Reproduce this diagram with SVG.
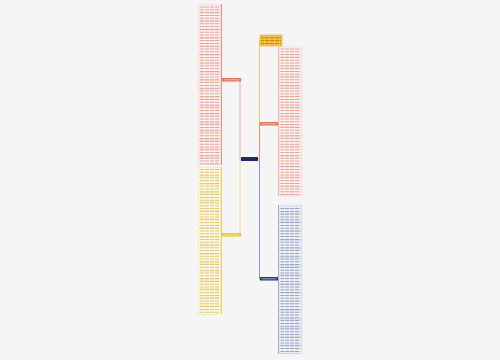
<svg xmlns="http://www.w3.org/2000/svg" width="500" height="360" viewBox="0 0 500 360">
<defs>
<pattern id="tr" width="5" height="2.8" patternUnits="userSpaceOnUse"><rect x="0" y="1" width="4.2" height="0.9" fill="#e09488"/></pattern>
<pattern id="ty" width="5" height="2.8" patternUnits="userSpaceOnUse"><rect x="0" y="1" width="4.2" height="0.9" fill="#ddbf5e"/></pattern>
<pattern id="tb" width="5" height="2.8" patternUnits="userSpaceOnUse"><rect x="0" y="1" width="4.2" height="0.9" fill="#8894b6"/></pattern>
<pattern id="to" width="5" height="2.8" patternUnits="userSpaceOnUse"><rect x="0" y="1" width="4.2" height="0.9" fill="#b07a20"/></pattern>
<pattern id="tw" width="4" height="3" patternUnits="userSpaceOnUse"><rect x="0" y="1" width="3.2" height="1" fill="#ffffff" opacity="0.8"/></pattern>
</defs>
<style>
.lr{fill:#fdf1f0;stroke:#f2cdc8;stroke-width:0.5}
.ly{fill:#fdf8e6;stroke:#f0e0a8;stroke-width:0.5}
.lb{fill:#eef1f8;stroke:#c6cde0;stroke-width:0.5}
.c{fill:none;stroke-width:0.8}
</style>
<rect width="500" height="360" fill="#f5f5f5"/>
<g id="connectors">
<path class="c" d="M241 159 H240 V80 H241" stroke="#e89a8e"/>
<path class="c" d="M241 159 H240 V235 H241" stroke="#f0d070"/>
<path class="c" d="M258 159 H259.5 V40 H260" stroke="#f0c040"/>
<path class="c" d="M259.5 159 V124 H260" stroke="#e08878"/>
<path class="c" d="M259.5 159 V279 H260" stroke="#7080a8"/>
<path class="c" d="M222 80 H221.5 V4 M221.5 80 V165" stroke="#e07a6c"/>
<path class="c" d="M222 235 H221.5 V167 M221.5 235 V314" stroke="#ecc650"/>
<path class="c" d="M278 124 H278.5 V47 M278.5 124 V196" stroke="#e89a8e"/>
<path class="c" d="M278 279 H278.5 V205 M278.5 279 V354" stroke="#8090b8"/>
</g>
<g id="root"><rect x="241" y="157" width="17" height="4" fill="#1f2a5c"/><rect x="243" y="158.5" width="13" height="1" fill="url(#tw)"/></g>
<g id="branch-left-red"><rect x="222" y="78" width="19" height="3.5" fill="#e07060"/><rect x="223.5" y="79.3" width="16" height="1" fill="#ffd8d0" opacity="0.7"/></g>
<g id="branch-left-yellow"><rect x="222" y="233" width="19" height="3.5" fill="#f2c230"/><rect x="223.5" y="234.3" width="16" height="1" fill="#fff0b0" opacity="0.7"/></g>
<g id="branch-right-red"><rect x="260" y="122" width="18" height="3.5" fill="#e07060"/><rect x="261.5" y="123.3" width="15" height="1" fill="#ffd8d0" opacity="0.7"/></g>
<g id="branch-right-blue"><rect x="260" y="277" width="18" height="3.5" fill="#2a3a70"/><rect x="261.5" y="278.3" width="15" height="1" fill="#c8d0f0" opacity="0.7"/></g>
<g id="note-orange"><rect x="260" y="35" width="22" height="11" fill="#f5c440" stroke="#e0a820" stroke-width="0.5"/><rect x="261" y="36" width="20" height="9" fill="url(#to)"/></g>
<g id="leaves-left-red">
<rect x="198" y="4" width="23" height="161" fill="#fbe9e7"/>
<rect class="lr" x="198.5" y="4.5" width="22" height="7.5"/><rect class="lr" x="198.5" y="13" width="22" height="7.5"/><rect class="lr" x="198.5" y="21.5" width="22" height="7.5"/><rect class="lr" x="198.5" y="30" width="22" height="7.5"/><rect class="lr" x="198.5" y="38.5" width="22" height="7.5"/><rect class="lr" x="198.5" y="47" width="22" height="7.5"/><rect class="lr" x="198.5" y="55.5" width="22" height="7.5"/><rect class="lr" x="198.5" y="64" width="22" height="7.5"/><rect class="lr" x="198.5" y="72.5" width="22" height="7.5"/><rect class="lr" x="198.5" y="81" width="22" height="7.5"/><rect class="lr" x="198.5" y="89.5" width="22" height="7.5"/><rect class="lr" x="198.5" y="98" width="22" height="7.5"/><rect class="lr" x="198.5" y="106.5" width="22" height="7.5"/><rect class="lr" x="198.5" y="115" width="22" height="7.5"/><rect class="lr" x="198.5" y="123.5" width="22" height="7.5"/><rect class="lr" x="198.5" y="132" width="22" height="7.5"/><rect class="lr" x="198.5" y="140.5" width="22" height="7.5"/><rect class="lr" x="198.5" y="149" width="22" height="7.5"/><rect class="lr" x="198.5" y="157.5" width="22" height="7"/>
<rect x="200" y="5" width="19" height="160" fill="url(#tr)"/>
</g>
<g id="leaves-left-yellow">
<rect x="198" y="167" width="23" height="148" fill="#fcf5dc"/>
<rect class="ly" x="198.5" y="167.5" width="22" height="7.8"/><rect class="ly" x="198.5" y="176.2" width="22" height="7.8"/><rect class="ly" x="198.5" y="184.9" width="22" height="7.8"/><rect class="ly" x="198.5" y="193.6" width="22" height="7.8"/><rect class="ly" x="198.5" y="202.3" width="22" height="7.8"/><rect class="ly" x="198.5" y="211" width="22" height="7.8"/><rect class="ly" x="198.5" y="219.7" width="22" height="7.8"/><rect class="ly" x="198.5" y="228.4" width="22" height="7.8"/><rect class="ly" x="198.5" y="237.1" width="22" height="7.8"/><rect class="ly" x="198.5" y="245.8" width="22" height="7.8"/><rect class="ly" x="198.5" y="254.5" width="22" height="7.8"/><rect class="ly" x="198.5" y="263.2" width="22" height="7.8"/><rect class="ly" x="198.5" y="271.9" width="22" height="7.8"/><rect class="ly" x="198.5" y="280.6" width="22" height="7.8"/><rect class="ly" x="198.5" y="289.3" width="22" height="7.8"/><rect class="ly" x="198.5" y="298" width="22" height="7.8"/><rect class="ly" x="198.5" y="306.7" width="22" height="7.8"/>
<rect x="200" y="168" width="19" height="146" fill="url(#ty)"/>
</g>
<g id="leaves-right-red">
<rect class="lr" x="279" y="47" width="23" height="9"/><rect class="lr" x="279" y="57" width="23" height="9"/><rect class="lr" x="279" y="67" width="23" height="9"/><rect class="lr" x="279" y="77" width="23" height="9"/><rect class="lr" x="279" y="87" width="23" height="9"/><rect class="lr" x="279" y="97" width="23" height="9"/><rect class="lr" x="279" y="107" width="23" height="9"/><rect class="lr" x="279" y="117" width="23" height="9"/><rect class="lr" x="279" y="127" width="23" height="9"/><rect class="lr" x="279" y="137" width="23" height="9"/><rect class="lr" x="279" y="147" width="23" height="9"/><rect class="lr" x="279" y="157" width="23" height="9"/><rect class="lr" x="279" y="167" width="23" height="9"/><rect class="lr" x="279" y="177" width="23" height="9"/><rect class="lr" x="279" y="187" width="23" height="9"/>
<rect x="280.5" y="48" width="20" height="148" fill="url(#tr)"/>
</g>
<g id="leaves-right-blue">
<rect class="lb" x="279" y="205" width="23" height="8"/><rect class="lb" x="279" y="213.8" width="23" height="8"/><rect class="lb" x="279" y="222.6" width="23" height="8"/><rect class="lb" x="279" y="231.4" width="23" height="8"/><rect class="lb" x="279" y="240.2" width="23" height="8"/><rect class="lb" x="279" y="249" width="23" height="8"/><rect class="lb" x="279" y="257.8" width="23" height="8"/><rect class="lb" x="279" y="266.6" width="23" height="8"/><rect class="lb" x="279" y="275.4" width="23" height="8"/><rect class="lb" x="279" y="284.2" width="23" height="8"/><rect class="lb" x="279" y="293" width="23" height="8"/><rect class="lb" x="279" y="301.8" width="23" height="8"/><rect class="lb" x="279" y="310.6" width="23" height="8"/><rect class="lb" x="279" y="319.4" width="23" height="8"/><rect class="lb" x="279" y="328.2" width="23" height="8"/><rect class="lb" x="279" y="337" width="23" height="8"/><rect class="lb" x="279" y="345.8" width="23" height="8"/>
<rect x="280.5" y="206" width="20" height="148" fill="url(#tb)"/>
</g>
</svg>
